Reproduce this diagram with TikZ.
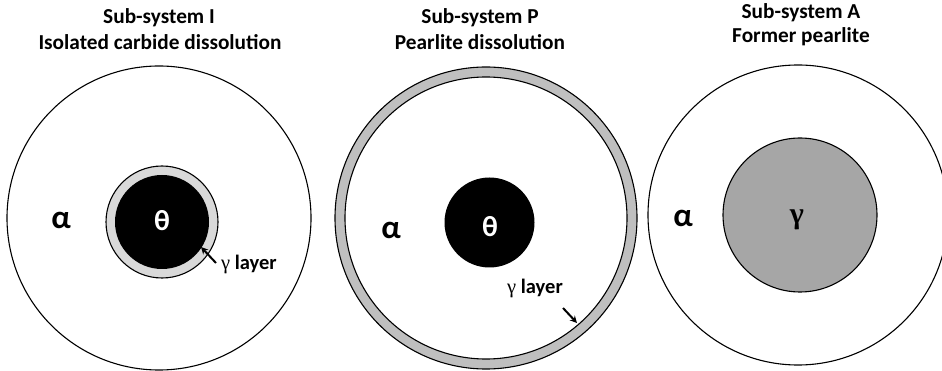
\documentclass[tikz,border=0pt]{standalone}
\usepackage{fontspec}
\setmainfont{Carlito}
\newfontfamily\grk{Liberation Serif}
\usetikzlibrary{arrows.meta}
\definecolor{ringlight}{HTML}{D9D9D9}
\definecolor{ringmid}{HTML}{BFBFBF}
\definecolor{gammafill}{HTML}{A6A6A6}
\tikzset{
  grain/.style={draw=black, line width=1.1pt, fill=white},
  title/.style={font=\bfseries\fontsize{21.3}{25}\selectfont, inner sep=0pt, align=center},
  phase/.style={font=\bfseries\fontsize{33}{36}\selectfont, inner sep=0pt},
  carb/.style={font=\bfseries\fontsize{29}{32}\selectfont, inner sep=0pt, text=white},
  lbl/.style={font=\bfseries\fontsize{20.5}{24}\selectfont, inner sep=0pt},
  pointer/.style={line width=2pt, -{Stealth[length=7pt,width=7pt]}}
}
\begin{document}
\begin{tikzpicture}[x=1pt,y=-1pt]
\useasboundingbox (0,0) rectangle (942,371);
% ---------- Sub-system I ----------
\draw[grain] (159,218) circle[radius=152];
\draw[draw=black, line width=1.1pt, fill=ringlight] (162,222) circle[radius=56];
\fill[black] (162,222) circle[radius=47];
\node[title] (tI1) at (159,18) {Sub-system I};
\node[title] (tI2) at (160,42) {Isolated carbide dissolution};
\node[phase] (aI) at (61,220) {α};
\node[carb] (thI) at (162,221) {θ};
\node[lbl, anchor=west] (gI) at (221,264) {{\grk\mdseries γ} layer};
\coordinate (tipI) at (201,247);
\coordinate (tailI) at (216,263);
\draw[pointer] (tailI) -- (tipI);
% ---------- Sub-system P ----------
\draw[draw=black, line width=1.1pt, fill=ringmid] (486,218) circle[radius=151];
\draw[grain] (486,218) circle[radius=141];
\fill[black] (489.5,222.5) circle[radius=45];
\node[title] (tP1) at (480,18) {Sub-system P};
\node[title] (tP2) at (480,42) {Pearlite dissolution};
\node[phase] (aP) at (391,230) {α};
\node[carb] (thP) at (490,227) {θ};
\node[lbl] (gP) at (535,288) {{\grk\mdseries γ} layer};
\coordinate (tailP) at (563,308);
\coordinate (tipP) at (577,323);
\draw[pointer] (tailP) -- (tipP);
% ---------- Sub-system A ----------
\draw[grain] (798,215) circle[radius=150];
\draw[draw=black, line width=1.1pt, fill=gammafill] (800,215) circle[radius=77];
\node[title] (tA1) at (801,13) {Sub-system A};
\node[title] (tA2) at (801,37) {Former pearlite};
\node[phase] (aA) at (683,218) {α};
\node[inner sep=0pt, font=\grk\bfseries\fontsize{30}{32}\selectfont] (gA) at (797,220) {γ};
\end{tikzpicture}
\end{document}
